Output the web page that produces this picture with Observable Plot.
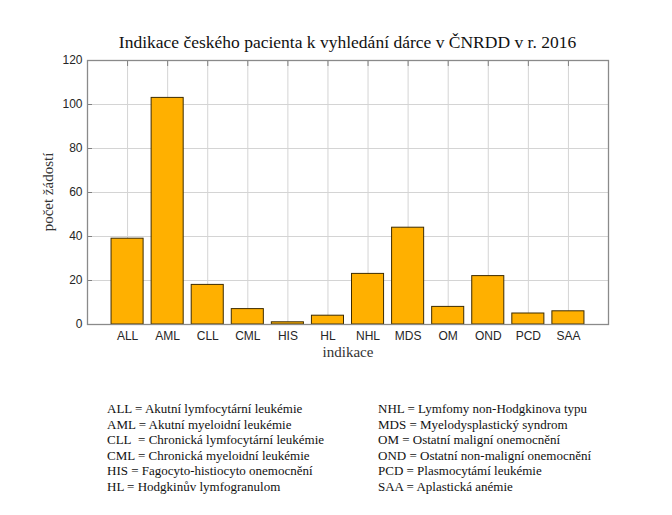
<!DOCTYPE html>
<html>
<head>
<meta charset="utf-8">
<script src="https://cdn.jsdelivr.net/npm/d3@7"></script>
<script src="https://cdn.jsdelivr.net/npm/@observablehq/plot@0.6"></script>
<style>
  html, body { margin: 0; padding: 0; background: #fff; }
  #wrap { position: relative; width: 672px; height: 515px; overflow: hidden; }
  #title { position: absolute; left: 0; width: 695px; top: 32px; text-align: center;
    font-family: "Liberation Serif", serif; font-size: 17.5px; color: #111; white-space: nowrap; }
  #chart { position: absolute; left: 0; top: 0; }
  .axlab { position: absolute; font-family: "Liberation Serif", serif; font-size: 15px; color: #333;
    white-space: nowrap; transform-origin: center center; }
  .leg { position: absolute; top: 401px; font-family: "Liberation Serif", serif; font-size: 13px;
    line-height: 15.6px; color: #111; white-space: nowrap; }
</style>
</head>
<body>
<div id="wrap">
  <div id="chart"></div>
  <div id="title"></div>
  <div id="ylab" class="axlab" style="left:48px; top:192px; transform: translate(-50%,-50%) rotate(-90deg);"></div>
  <div id="xlab" class="axlab" style="left:348px; top:352px; transform: translate(-50%,-50%);"></div>
  <div id="legL" class="leg" style="left:107px"></div>
  <div id="legR" class="leg" style="left:378px"></div>
</div>
<script>
const categories = ["ALL","AML","CLL","CML","HIS","HL","NHL","MDS","OM","OND","PCD","SAA"];
const counts = [39, 103, 18, 7, 1, 4, 23, 44, 8, 22, 5, 6];
const yTicks = [0, 20, 40, 60, 80, 100, 120];
const titleText = "Indikace českého pacienta k vyhledání dárce v ČNRDD v r. 2016";
const xLabel = "indikace";
const yLabel = "počet žádostí";
const legendLeft = [
  "ALL = Akutní lymfocytární leukémie",
  "AML = Akutní myeloidní leukémie",
  "CLL  = Chronická lymfocytární leukémie",
  "CML = Chronická myeloidní leukémie",
  "HIS = Fagocyto-histiocyto onemocnění",
  "HL = Hodgkinův lymfogranulom"
];
const legendRight = [
  "NHL = Lymfomy non-Hodgkinova typu",
  "MDS = Myelodysplastický syndrom",
  "OM = Ostatní maligní onemocnění",
  "OND = Ostatní non-maligní onemocnění",
  "PCD = Plasmocytámí leukémie",
  "SAA = Aplastická anémie"
];

const data = categories.map((c, i) => ({cat: c, pos: i + 1, value: counts[i]}));
const positions = data.map(d => d.pos);
const barHalf = 0.4;

const chart = Plot.plot({
  width: 672,
  height: 370,
  marginLeft: 87,
  marginRight: 64,
  marginTop: 60,
  marginBottom: 46,
  style: {fontFamily: "'Liberation Sans', Arial, sans-serif", fontSize: "12px", color: "#262626", background: "transparent"},
  x: {type: "linear", domain: [0, 13]},
  y: {domain: [0, 120]},
  marks: [
    Plot.gridX(positions, {stroke: "#d4d4d4", strokeOpacity: 1}),
    Plot.gridY(yTicks.slice(1, -1), {stroke: "#d4d4d4", strokeOpacity: 1}),
    Plot.rectY(data, {x1: d => d.pos - barHalf, x2: d => d.pos + barHalf, y: "value", fill: "#FFB000", stroke: "#3d2c00", strokeWidth: 1}),
    Plot.axisX(positions, {anchor: "bottom", tickSize: 0, tickPadding: 7, tickFormat: d => categories[d - 1], label: null}),
    Plot.axisX(positions, {anchor: "top", tickSize: -5, text: null, label: null, stroke: "#808080"}),
    Plot.axisY(yTicks, {anchor: "left", tickSize: 0, tickPadding: 5, label: null}),
    Plot.axisY(yTicks, {anchor: "left", tickSize: -5, text: null, label: null, stroke: "#808080"}),
    Plot.frame({stroke: "#8a8a8a", strokeWidth: 1.3})
  ]
});
document.getElementById("chart").appendChild(chart);
document.getElementById("title").textContent = titleText;
document.getElementById("ylab").textContent = yLabel;
document.getElementById("xlab").textContent = xLabel;
document.getElementById("legL").innerHTML = legendLeft.map(t => `<div>${t.replace(/  /g, "&nbsp; ")}</div>`).join("");
document.getElementById("legR").innerHTML = legendRight.map(t => `<div>${t}</div>`).join("");
</script>
</body>
</html>
